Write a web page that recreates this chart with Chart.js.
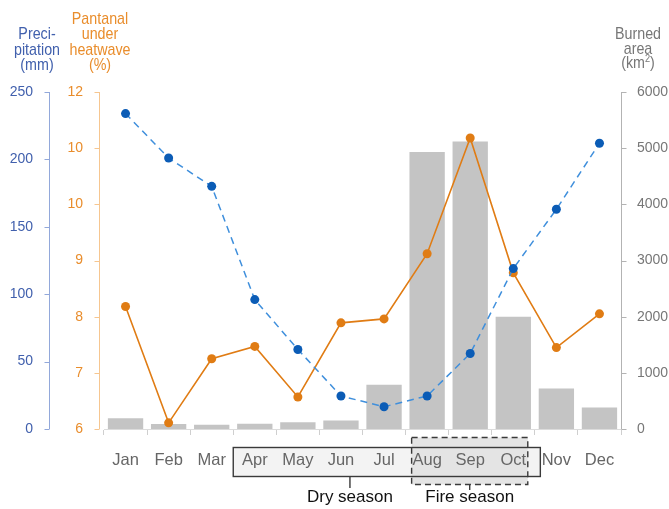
<!DOCTYPE html>
<html>
<head>
<meta charset="utf-8">
<script src="https://cdn.jsdelivr.net/npm/chart.js@4"></script>
<style>
  html, body { margin: 0; padding: 0; background: #fff; }
</style>
</head>
<body>
<canvas id="chart" width="669" height="509"></canvas>
<script>
// Monthly climatology for the Pantanal
const months = ['Jan', 'Feb', 'Mar', 'Apr', 'May', 'Jun', 'Jul', 'Aug', 'Sep', 'Oct', 'Nov', 'Dec'];
const precipitation = [234, 201, 180, 96, 59, 24.5, 16.5, 24.5, 56, 119, 163, 212];        // mm
const heatwave = [8.18, 6.11, 7.25, 7.47, 6.57, 7.89, 7.96, 9.12, 11.18, 8.78, 7.45, 8.05]; // %
const burnedArea = [190, 90, 75, 95, 120, 150, 790, 4930, 5120, 2000, 720, 385];           // km²

// Axis tick labels
const precipTicks = [0, 50, 100, 150, 200, 250];
const heatTickLabels = ['6', '7', '8', '9', '10', '10', '12'];
const burnedTicks = [0, 1000, 2000, 3000, 4000, 5000, 6000];

// Season brackets under the month axis
const drySeason = { label: 'Dry season', from: 'Apr', to: 'Oct' };
const fireSeason = { label: 'Fire season', from: 'Aug', to: 'Oct' };

const FONT = '"Liberation Sans", Arial, Helvetica, sans-serif';
const BLUE_TXT = '#4160ad';
const ORANGE_TXT = '#e98d2c';
const GRAY_TXT = '#777777';
const CONDENSE = 0.84;

// Axis lines with small outward ticks, offset from the plot where needed
const axisLines = {
  id: 'axisLines',
  afterDraw(chart) {
    const ctx = chart.ctx;
    const defs = [
      { scale: chart.scales.y, x: chart.scales.y.right, dir: -1, color: '#92a8da', ticks: precipTicks },
      { scale: chart.scales.y1, x: chart.scales.y1.right - 5, dir: -1, color: '#f6c690', ticks: heatTickLabels.map((_, i) => i + 6) },
      { scale: chart.scales.y2, x: chart.scales.y2.left, dir: 1, color: '#b3b3b3', ticks: burnedTicks }
    ];
    ctx.save();
    ctx.lineWidth = 1;
    defs.forEach(d => {
      const x = Math.round(d.x) + 0.5;
      const top = d.scale.getPixelForValue(d.ticks[d.ticks.length - 1]);
      const bot = d.scale.getPixelForValue(d.ticks[0]);
      ctx.strokeStyle = d.color;
      ctx.beginPath();
      ctx.moveTo(x, top);
      ctx.lineTo(x, bot);
      d.ticks.forEach(v => {
        const y = Math.round(d.scale.getPixelForValue(v)) + 0.5;
        ctx.moveTo(x, y);
        ctx.lineTo(x + d.dir * 5, y);
      });
      ctx.stroke();
    });
    ctx.restore();
  }
};

// Condensed, centred text run
function condensedText(ctx, text, x, y) {
  ctx.save();
  ctx.translate(x, y);
  ctx.scale(CONDENSE, 1);
  ctx.fillText(text, 0, 0);
  ctx.restore();
}

// Season boxes behind the month labels, captions below, axis titles on top
const seasons = {
  id: 'seasons',
  beforeDraw(chart) {
    const ctx = chart.ctx;
    const xs = chart.scales.x;
    const base = chart.chartArea.bottom;
    const step = xs.getPixelForValue(1) - xs.getPixelForValue(0);
    const px = m => xs.getPixelForValue(months.indexOf(m));

    const dL = px(drySeason.from) - step / 2, dR = px(drySeason.to) + step / 2 + 5.5;
    const fL = px(fireSeason.from) - 15.5, fR = px(fireSeason.to) + 14.5;
    ctx.save();
    ctx.fillStyle = '#f3f3f3';
    ctx.fillRect(dL, base + 18.5, dR - dL, 29);
    ctx.fillStyle = '#e4e4e4';
    ctx.fillRect(fL, base + 8.5, fR - fL, 47);
    ctx.lineWidth = 1.4;
    ctx.strokeStyle = '#3a3a3a';
    ctx.strokeRect(dL, base + 18.5, dR - dL, 29);
    ctx.setLineDash([6, 4]);
    ctx.strokeRect(fL, base + 8.5, fR - fL, 47);
    ctx.setLineDash([]);
    chart.$seasonGeom = { dL, dR, fL, fR, base };
    ctx.restore();
  },
  afterDraw(chart) {
    const g = chart.$seasonGeom;
    if (!g) return;
    const ctx = chart.ctx;
    const dx = g.dL + (g.dR - g.dL) * 0.38;
    const fx = (g.fL + g.fR) / 2;
    ctx.save();
    ctx.strokeStyle = '#3a3a3a';
    ctx.lineWidth = 1.4;
    ctx.beginPath();
    ctx.moveTo(dx, g.base + 47.5);
    ctx.lineTo(dx, g.base + 59);
    ctx.moveTo(fx, g.base + 55.5);
    ctx.lineTo(fx, g.base + 61);
    ctx.stroke();
    ctx.fillStyle = '#111';
    ctx.font = '17px ' + FONT;
    ctx.textAlign = 'center';
    ctx.textBaseline = 'middle';
    ctx.fillText(drySeason.label, dx, g.base + 68.5);
    ctx.fillText(fireSeason.label, fx, g.base + 68.5);

    // axis titles
    const title = (lines, x, y0, lh, color) => {
      ctx.fillStyle = color;
      ctx.font = '17px ' + FONT;
      lines.forEach((t, i) => condensedText(ctx, t, x, y0 + i * lh));
    };
    title(['Preci-', 'pitation', '(mm)'], 37, 34.5, 15.5, BLUE_TXT);
    title(['Pantanal', 'under', 'heatwave', '(%)'], 100, 19, 15.5, ORANGE_TXT);
    title(['Burned', 'area'], 638, 34, 15, GRAY_TXT);
    // (km²) with superscript
    const y3 = 63.5;
    ctx.font = '17px ' + FONT;
    const w1 = ctx.measureText('(km').width * CONDENSE;
    const w3 = ctx.measureText(')').width * CONDENSE;
    ctx.font = '11px ' + FONT;
    const w2 = ctx.measureText('2').width * CONDENSE;
    const sx = 638 - (w1 + w2 + w3) / 2;
    ctx.font = '17px ' + FONT;
    condensedText(ctx, '(km', sx + w1 / 2, y3);
    condensedText(ctx, ')', sx + w1 + w2 + w3 / 2, y3);
    ctx.font = '11px ' + FONT;
    condensedText(ctx, '2', sx + w1 + w2 / 2, y3 - 4.5);
    ctx.restore();
  }
};

new Chart(document.getElementById('chart'), {
  data: {
    labels: months,
    datasets: [
      {
        type: 'line',
        label: 'Precipitation',
        data: precipitation,
        yAxisID: 'y',
        order: 0,
        borderColor: '#3f8fdc',
        borderWidth: 1.5,
        borderDash: [7, 5],
        pointRadius: 4.5,
        pointBackgroundColor: '#0b5cb6',
        pointBorderColor: '#0b5cb6',
        pointBorderWidth: 0,
        tension: 0
      },
      {
        type: 'line',
        label: 'Pantanal under heatwave',
        data: heatwave,
        yAxisID: 'y1',
        order: 1,
        borderColor: '#e07c14',
        borderWidth: 1.6,
        pointRadius: 4.5,
        pointBackgroundColor: '#e07c14',
        pointBorderColor: '#e07c14',
        pointBorderWidth: 0,
        tension: 0
      },
      {
        type: 'bar',
        label: 'Burned area',
        data: burnedArea,
        yAxisID: 'y2',
        order: 2,
        backgroundColor: '#c4c4c4',
        borderWidth: 0,
        barPercentage: 0.82,
        categoryPercentage: 1
      }
    ]
  },
  options: {
    responsive: false,
    animation: false,
    devicePixelRatio: 1,
    layout: { padding: { top: 92, left: 0, right: 0, bottom: 0 } },
    plugins: { legend: { display: false }, tooltip: { enabled: false } },
    scales: {
      x: {
        type: 'category',
        offset: true,
        grid: { display: true, drawOnChartArea: false, tickLength: 6, color: '#cfcfcf' },
        border: { display: true, color: '#dcdcdc' },
        ticks: { color: '#666', font: { size: 16.5, family: FONT }, padding: 16, maxRotation: 0, autoSkip: false },
        afterFit: s => { s.height = 80; }
      },
      y: {
        position: 'left',
        weight: 2,
        min: 0, max: 250,
        afterBuildTicks: s => { s.ticks = precipTicks.map(v => ({ value: v })); },
        ticks: { color: BLUE_TXT, font: { size: 14, family: FONT }, padding: 8, callback: v => String(v) },
        grid: { display: false },
        border: { display: false },
        afterFit: s => { s.width = 49; }
      },
      y1: {
        position: 'left',
        weight: 0,
        min: 6, max: 12,
        ticks: {
          stepSize: 1,
          callback: v => heatTickLabels[v - 6],
          color: ORANGE_TXT, font: { size: 14, family: FONT }, padding: 13
        },
        grid: { display: false },
        border: { display: false },
        afterFit: s => { s.width = 55; }
      },
      y2: {
        position: 'right',
        min: 0, max: 6000,
        afterBuildTicks: s => { s.ticks = burnedTicks.map(v => ({ value: v })); },
        ticks: { color: GRAY_TXT, font: { size: 14, family: FONT }, padding: 8, callback: v => String(v) },
        grid: { display: false },
        border: { display: false },
        afterFit: s => { s.width = 48; }
      }
    }
  },
  plugins: [seasons, axisLines]
});
</script>
</body>
</html>
